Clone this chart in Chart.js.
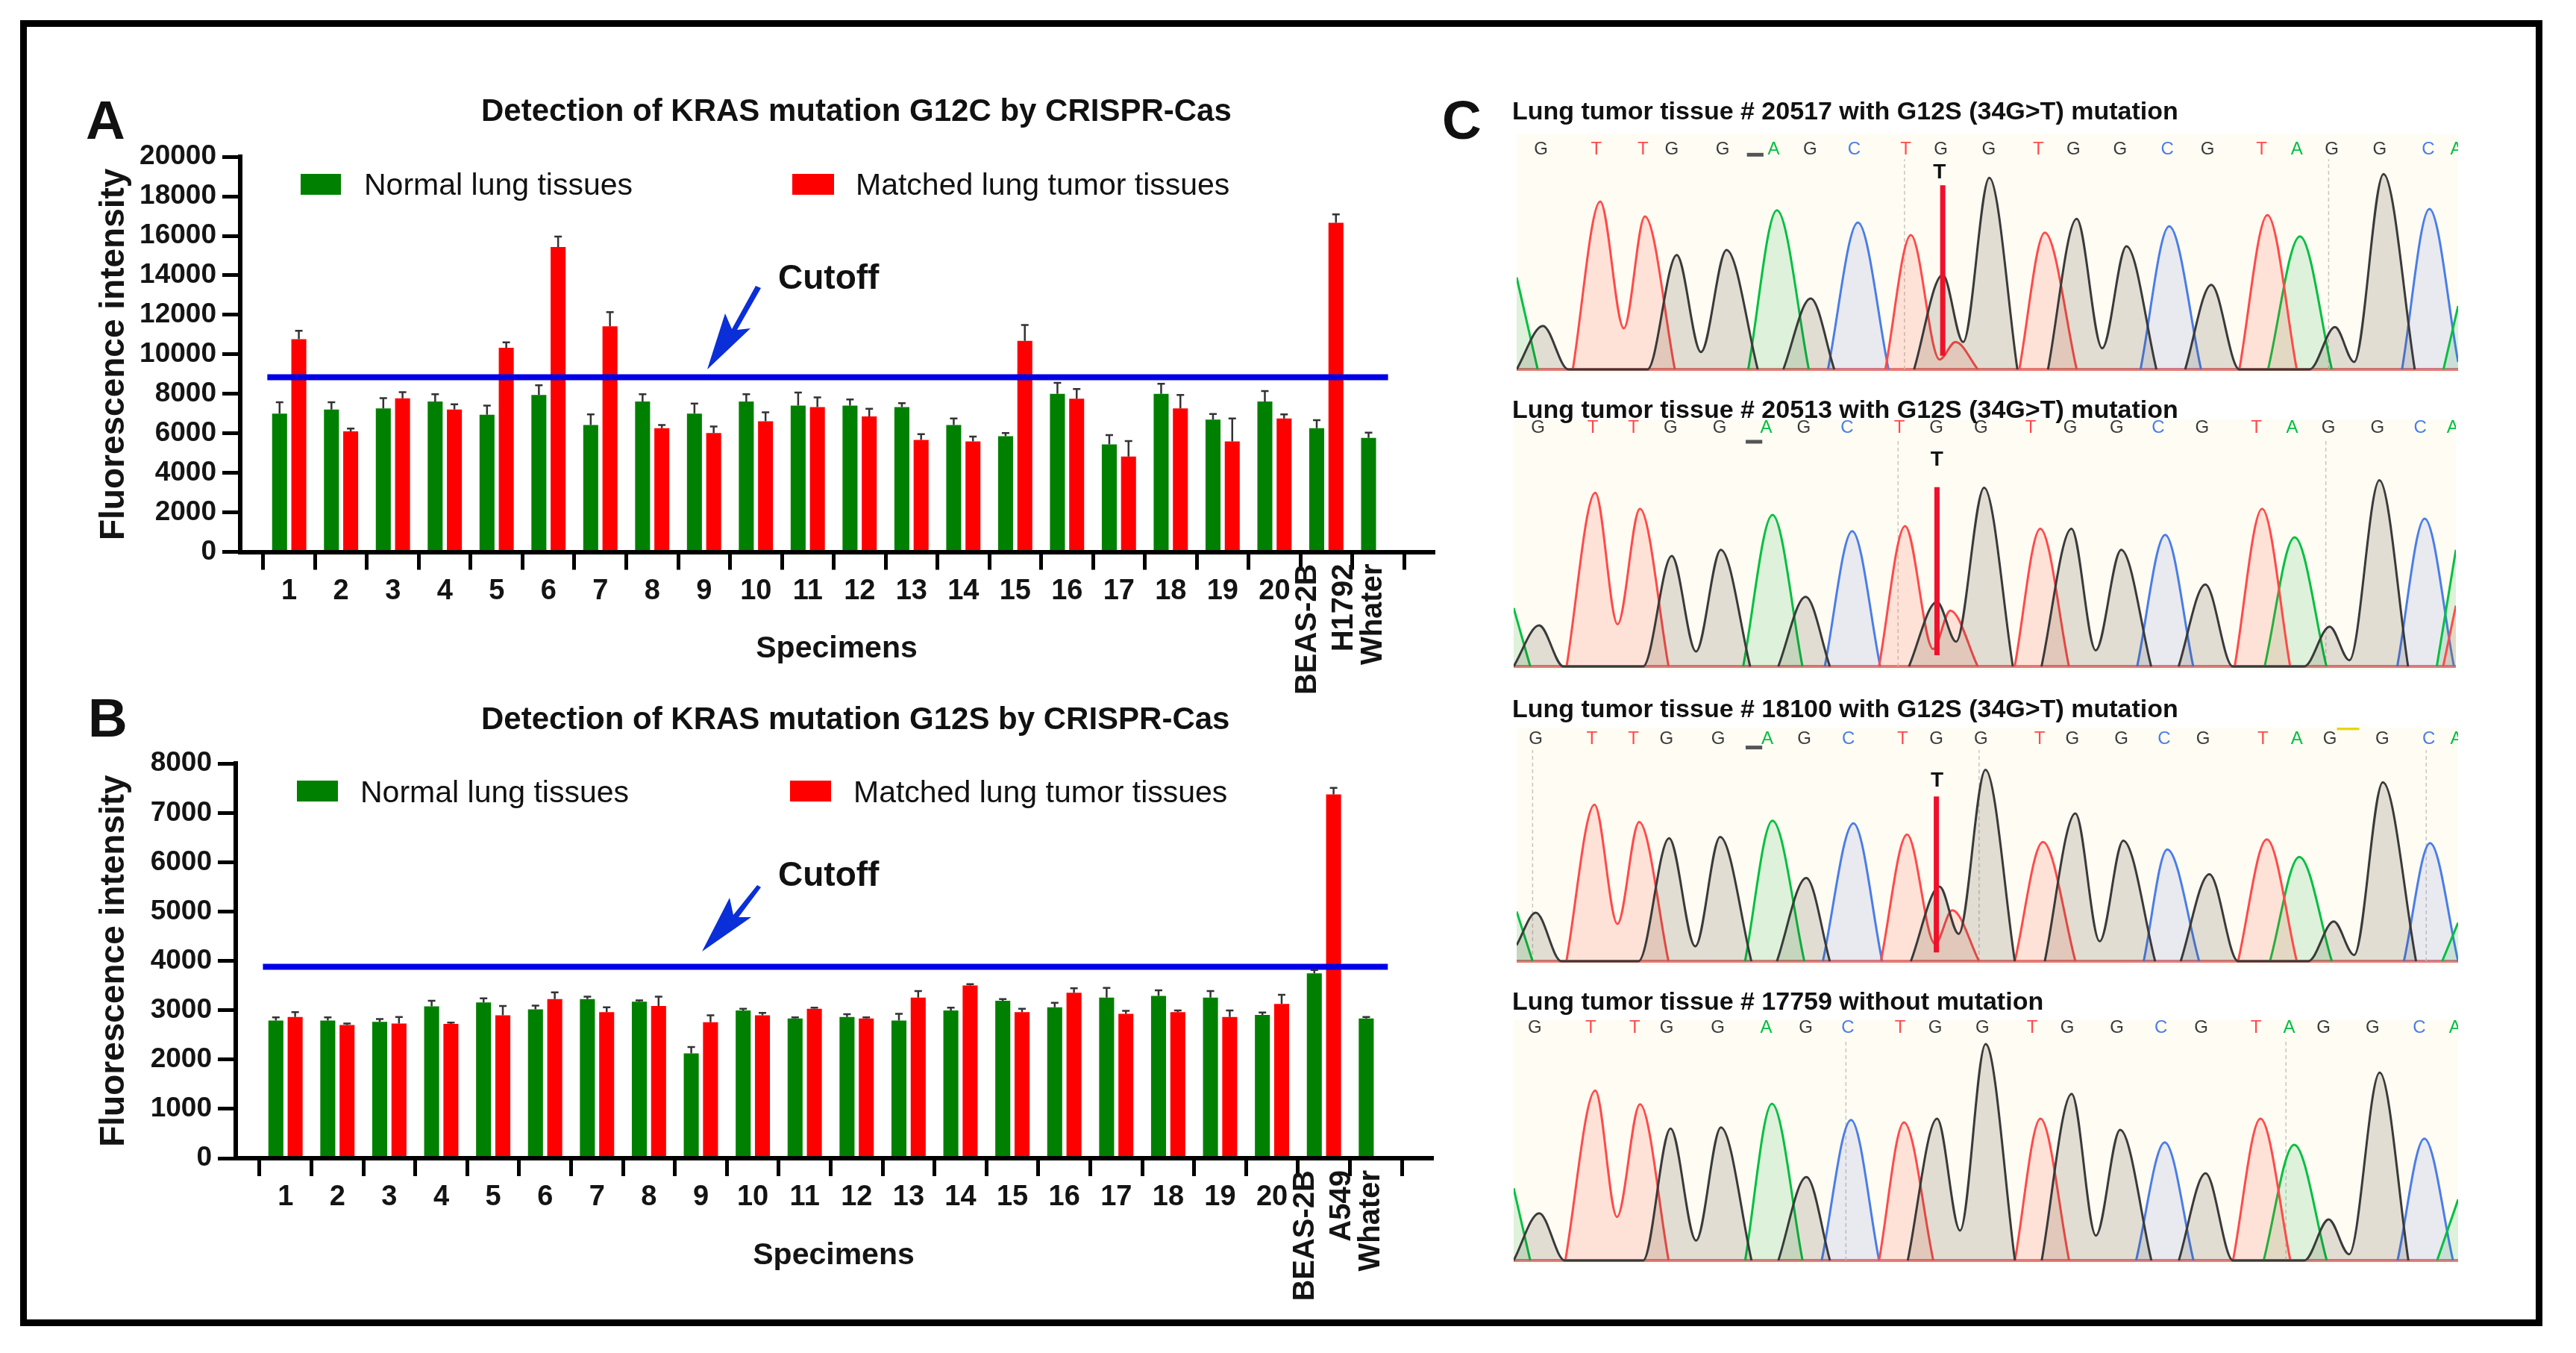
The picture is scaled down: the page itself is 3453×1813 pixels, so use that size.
<!DOCTYPE html>
<html>
<head>
<meta charset="utf-8">
<title>KRAS mutation detection</title>
<script src="https://cdn.jsdelivr.net/npm/chart.js@4/dist/chart.umd.js"></script>
<style>
  html, body { margin: 0; background: #fff; overflow: hidden; }
  body { width: 3453px; height: 1813px; position: relative; font-family: "Liberation Sans", Arial, sans-serif; color: #111; }
  #frame { position: absolute; left: 27px; top: 27px; width: 3381px; height: 1750px; box-sizing: border-box; border: 9px solid #000; }
  canvas { position: absolute; filter: blur(.7px); }
  .txt { position: absolute; white-space: nowrap; filter: blur(.5px); }
  svg { position: absolute; left: 0; top: 0; }
</style>
</head>
<body>
<div id="frame"></div>
<canvas id="chartA"></canvas>
<canvas id="chartB"></canvas>
<canvas id="trace1"></canvas>
<canvas id="trace2"></canvas>
<canvas id="trace3"></canvas>
<canvas id="trace4"></canvas>
<svg width="3453" height="1813">
  <polygon fill="#0a2ed8" points="948,495 972,420 981,441 1013,383 1020,386 988,442 1006,440"/>
  <polygon fill="#0a2ed8" points="941,1275 978,1203 983,1226 1015,1186 1020,1189 990,1229 1007,1229"/>
</svg>
<script>
// x axis names
const specimens = ['1', '2', '3', '4', '5', '6', '7', '8', '9', '10', '11', '12', '13', '14', '15', '16', '17', '18', '19', '20'];
const controlsA = ['BEAS-2B', 'H1792', 'Whater'];
const controlsB = ['BEAS-2B', 'A549', 'Whater'];
const seriesNames = ['Normal lung tissues', 'Matched lung tumor tissues'];

// panel A, G12C. last two slots are the control cell lines, water has no tumor bar
const normalA = [7000, 7205, 7267, 7615, 6940, 7942, 6428, 7615, 7000, 7615, 7410, 7410, 7328, 6428, 5854, 8004, 5445, 8004, 6694, 7615, 6264, 5773];
const normalAErr = [575, 369, 513, 368, 470, 492, 532, 368, 513, 368, 655, 307, 205, 327, 164, 552, 471, 511, 286, 532, 409, 266];
const tumorA = [10767, 6100, 7779, 7205, 10337, 15434, 11422, 6264, 6018, 6612, 7328, 6857, 5670, 5588, 10685, 7758, 4831, 7267, 5588, 6755, 16663, null];
const tumorAErr = [430, 143, 307, 267, 267, 533, 717, 164, 328, 450, 492, 389, 287, 246, 799, 491, 778, 675, 1167, 205, 430, null];
const cutoffA = 8842;
const yTicksA = 2000;
const yMaxA = 20000;

// panel B, G12S
const normalB = [2790, 2790, 2765, 3077, 3159, 3019, 3225, 3175, 2125, 2995, 2831, 2864, 2790, 2995, 3192, 3060, 3257, 3290, 3257, 2905, 3750, 2831];
const normalBErr = [65, 65, 57, 115, 82, 74, 49, 25, 131, 33, 24, 57, 139, 57, 33, 91, 197, 115, 132, 49, 65, 33];
const tumorB = [2864, 2700, 2732, 2724, 2896, 3225, 2962, 3085, 2757, 2896, 3028, 2831, 3257, 3504, 2962, 3356, 2929, 2962, 2864, 3126, 7376, null];
const tumorBErr = [98, 32, 132, 25, 189, 139, 98, 189, 139, 50, 24, 24, 132, 24, 66, 90, 58, 33, 131, 189, 132, null];
const cutoffB = 3880;
const yTicksB = 1000;
const yMaxB = 8000;

// chromatograms: [scan position, signal], null breaks the trace
const bases = ['G', 'T', 'T', 'G', 'G', 'A', 'G', 'C', 'T', 'G', 'G', 'T', 'G', 'G', 'C', 'G', 'T', 'A', 'G', 'G', 'C', 'A'];

const basePos1 = [65, 152, 225, 270, 350, 430, 487, 556, 637, 692, 767, 845, 900, 973, 1047, 1110, 1195, 1250, 1305, 1380, 1456, 1500];
const black1 = [[27, 0], [68, 175], [108, 0], [232, 0], [278, 460], [316, 70], [356, 480], [405, 0], null, [445, 0], [488, 285], [525, 0], null, [650, 0], [695, 380], [727, 110], [768, 770], [812, 0], null, [860, 0], [905, 605], [945, 85], [983, 495], [1030, 0], null, [1075, 0], [1116, 340], [1160, 0], [1270, 0], [1310, 170], [1340, 30], [1386, 785], [1435, 0]];
const red1 = [[115, 0], [158, 675], [195, 165], [228, 615], [275, 0], null, [605, 0], [645, 540], [690, 40], [715, 110], [750, 0], null, [815, 0], [855, 550], [905, 0], null, [1160, 0], [1204, 620], [1250, 0]];
const green1 = [[27, 370], [60, 0], null, [390, 0], [435, 640], [485, 0], null, [1205, 0], [1255, 535], [1305, 0], null, [1480, 0], [1503, 255]];
const blue1 = [[515, 0], [562, 590], [610, 0], null, [1005, 0], [1050, 575], [1100, 0], null, [1415, 0], [1458, 645], [1503, 30]];
const call1 = [[695, 55], [695, 740]];
const dashes1 = [635, 1300];

const basePos2 = [60, 146, 210, 268, 345, 418, 477, 545, 627, 685, 755, 833, 895, 968, 1033, 1102, 1187, 1243, 1300, 1377, 1444, 1495];
const black2 = [[22, 0], [62, 165], [100, 0], [225, 0], [270, 445], [308, 60], [347, 470], [393, 0], null, [437, 0], [480, 280], [518, 0], null, [642, 0], [686, 260], [716, 100], [760, 720], [805, 0], null, [850, 0], [897, 555], [935, 65], [975, 470], [1022, 0], null, [1065, 0], [1107, 330], [1150, 0], [1262, 0], [1302, 160], [1333, 25], [1380, 750], [1425, 0]];
const red2 = [[105, 0], [150, 700], [185, 170], [220, 635], [265, 0], null, [595, 0], [636, 565], [680, 70], [707, 225], [750, 0], null, [808, 0], [848, 555], [893, 0], null, [1153, 0], [1196, 635], [1240, 0], null, [1480, 0], [1500, 245]];
const green2 = [[22, 235], [48, 0], null, [382, 0], [428, 610], [475, 0], null, [1200, 0], [1247, 520], [1297, 0], null, [1470, 0], [1500, 470]];
const blue2 = [[510, 0], [553, 545], [597, 0], null, [1000, 0], [1044, 530], [1088, 0], null, [1408, 0], [1451, 595], [1497, 0]];
const call2 = [[686, 45], [686, 722]];
const dashes2 = [625, 1296];

const basePos3 = [57, 145, 210, 262, 343, 420, 478, 547, 632, 685, 755, 847, 898, 975, 1042, 1103, 1197, 1250, 1302, 1384, 1457, 1500];
const black3 = [[27, 65], [57, 195], [97, 0], [218, 0], [266, 495], [307, 60], [346, 500], [395, 0], null, [435, 0], [481, 335], [518, 0], null, [645, 0], [690, 300], [720, 110], [762, 770], [808, 0], null, [855, 0], [903, 595], [941, 80], [978, 485], [1028, 0], null, [1068, 0], [1113, 350], [1158, 0], [1268, 0], [1308, 160], [1340, 25], [1385, 720], [1437, 0]];
const red3 = [[105, 0], [149, 630], [185, 150], [219, 560], [265, 0], null, [598, 0], [639, 510], [683, 70], [710, 205], [752, 0], null, [808, 0], [852, 480], [903, 0], null, [1158, 0], [1203, 490], [1250, 0]];
const green3 = [[27, 200], [52, 0], null, [385, 0], [428, 565], [478, 0], null, [1208, 0], [1254, 420], [1305, 0], null, [1478, 0], [1503, 155]];
const blue3 = [[507, 0], [555, 555], [600, 0], null, [1010, 0], [1047, 450], [1097, 0], null, [1418, 0], [1459, 475], [1503, 0]];
const call3 = [[685, 35], [685, 663]];
const dashes3 = [52, 752, 1453];

const basePos4 = [55, 143, 212, 262, 342, 418, 480, 546, 628, 683, 757, 835, 890, 968, 1037, 1100, 1186, 1238, 1292, 1369, 1442, 1498];
const black4 = [[22, 0], [62, 190], [102, 0], [225, 0], [268, 530], [308, 80], [347, 535], [395, 0], null, [437, 0], [481, 335], [518, 0], null, [640, 0], [686, 570], [722, 120], [762, 870], [808, 0], null, [850, 0], [897, 670], [935, 100], [973, 525], [1022, 0], null, [1065, 0], [1107, 350], [1150, 0], [1262, 0], [1300, 165], [1332, 25], [1380, 755], [1425, 0]];
const red4 = [[103, 0], [150, 683], [184, 175], [220, 628], [265, 0], null, [595, 0], [634, 555], [680, 0], null, [808, 0], [848, 570], [893, 0], null, [1150, 0], [1193, 570], [1240, 0]];
const green4 = [[22, 290], [48, 0], null, [385, 0], [427, 630], [475, 0], null, [1198, 0], [1246, 465], [1297, 0], null, [1470, 0], [1503, 245]];
const blue4 = [[505, 0], [551, 565], [595, 0], null, [998, 0], [1043, 475], [1088, 0], null, [1408, 0], [1450, 490], [1495, 0]];
const dashes4 = [543, 1233];

const GREEN = '#008000', RED = '#ff0000', BLUE = '#0000e6', INK = '#141414';
const FONT = '"Liberation Sans", Arial, sans-serif';

Chart.defaults.animation = false;
Chart.defaults.responsive = false;
Chart.defaults.font.family = FONT;
Chart.defaults.devicePixelRatio = 1;

function text(str, x, y, size, weight) {
    const el = document.createElement('div');
    el.className = 'txt';
    el.textContent = str;
    el.style.left = x + 'px';
    el.style.top = (y - size) + 'px';
    el.style.lineHeight = (size * 2) + 'px';
    el.style.fontSize = size + 'px';
    el.style.fontWeight = weight;
    document.body.appendChild(el);
    return el;
}

function swatch(x, y, w, h, color) {
    const el = document.createElement('div');
    el.style.cssText = `position:absolute;left:${x}px;top:${y}px;width:${w}px;height:${h}px;background:${color};filter:blur(.7px)`;
    document.body.appendChild(el);
}

const whiskers = {
    id: 'whiskers',
    afterDatasetsDraw(chart, args, opts) {
        const y = chart.scales.y, c = chart.ctx;
        c.save();
        c.strokeStyle = '#333';
        c.lineWidth = 2.5;
        opts.errors.forEach((errs, d) => {
            chart.getDatasetMeta(d).data.forEach((bar, i) => {
                if (errs[i] == null) return;
                const val = chart.data.datasets[d].data[i].y;
                const top = y.getPixelForValue(val + errs[i]);
                c.beginPath();
                c.moveTo(bar.x, y.getPixelForValue(val));
                c.lineTo(bar.x, top);
                c.moveTo(bar.x - 5, top);
                c.lineTo(bar.x + 5, top);
                c.stroke();
            });
        });
        c.restore();
    }
};

// the three control names stand upright beside the last ticks
const controlLabels = {
    id: 'controlLabels',
    afterDraw(chart, args, opts) {
        const c = chart.ctx, x = chart.scales.x;
        c.save();
        c.font = 'bold 40px ' + FONT;
        c.fillStyle = INK;
        c.textAlign = 'right';
        c.textBaseline = 'middle';
        opts.names.forEach((name, i) => {
            c.save();
            c.translate(x.getPixelForValue(opts.at[i]) + opts.shift[i], chart.chartArea.bottom + opts.gap);
            c.rotate(-Math.PI / 2);
            c.fillText(name, 0, 0);
            c.restore();
        });
        c.restore();
    }
};

function barChart(id, box, names, normal, normalErr, tumor, tumorErr, cutoff, step, yMax, xMin, xMax, cutoffEnd, at) {
    const canvas = document.getElementById(id);
    canvas.width = box.w;
    canvas.height = box.h;
    canvas.style.left = box.x + 'px';
    canvas.style.top = box.y + 'px';
    const slots = specimens.concat(names[0], names[2]);
    new Chart(canvas, {
        type: 'bar',
        data: {
            datasets: [{
                label: seriesNames[0],
                data: normal.map((v, i) => ({ x: i + 1, y: v })),
                backgroundColor: GREEN,
                categoryPercentage: 0.742,
                barPercentage: 0.778,
            }, {
                label: seriesNames[1],
                data: tumor.map((v, i) => ({ x: i + 1, y: v })),
                backgroundColor: RED,
                categoryPercentage: 0.742,
                barPercentage: 0.778,
            }, {
                type: 'line',
                label: 'Cutoff',
                data: [{ x: xMin, y: cutoff }, { x: cutoffEnd, y: cutoff }],
                borderColor: BLUE,
                borderWidth: 8,
                pointRadius: 0,
                order: -1,
            }]
        },
        options: {
            layout: { padding: box.pad },
            plugins: {
                legend: { display: false },
                tooltip: { enabled: false },
                whiskers: { errors: [normalErr, tumorErr] },
                controlLabels: { names: names, at: at, shift: [-25, 24, -6], gap: 16 },
            },
            scales: {
                x: {
                    type: 'linear',
                    min: xMin,
                    max: xMax,
                    afterFit(s) { s.height = 157; },
                    border: { color: '#000', width: 6, z: 1 },
                    grid: { drawOnChartArea: false, color: '#000', lineWidth: 5, tickLength: 24 },
                    ticks: {
                        stepSize: 1,
                        includeBounds: false,
                        autoSkip: false,
                        maxRotation: 0,
                        minRotation: 0,
                        padding: 6,
                        color: INK,
                        font: { size: 38, weight: 'bold' },
                        callback: v => (v <= 20 ? slots[v - 1] : ''),
                    },
                    title: { display: true, text: 'Specimens', color: INK, font: { size: 41, weight: 'bold' }, padding: { top: 0, bottom: 2 } },
                },
                y: {
                    min: 0,
                    max: yMax,
                    afterFit(s) { s.width = box.yWidth; },
                    border: { color: '#000', width: 6, z: 1 },
                    grid: { drawOnChartArea: false, color: '#000', lineWidth: 5, tickLength: 24 },
                    ticks: {
                        stepSize: step,
                        autoSkip: false,
                        padding: 8,
                        color: INK,
                        font: { size: 37, weight: 'bold' },
                        callback: v => String(v),
                    },
                    title: { display: true, text: 'Fluorescence intensity', color: INK, font: { size: 46, weight: 'bold' }, padding: { top: 6, bottom: 0 } },
                },
            },
        },
        plugins: [whiskers, controlLabels],
    });
}

barChart('chartA', { x: 120, y: 180, w: 1810, h: 765, yWidth: 202, pad: { top: 30, right: 9, bottom: 48.5, left: 0 } },
    controlsA, normalA, normalAErr, tumorA, tumorAErr, cutoffA, yTicksA, yMaxA, 0.578, 22.536, 22.19, [21, 21, 22]);
barChart('chartB', { x: 120, y: 993, w: 1810, h: 770, yWidth: 196, pad: { top: 30, right: 11, bottom: 54, left: 0 } },
    controlsB, normalB, normalBErr, tumorB, tumorBErr, cutoffB, yTicksB, yMaxB, 0.565, 22.55, 22.23, [21, 21, 22]);

const toPoints = list => list.map((p, i) => (p ? { x: p[0], y: p[1] } : { x: list[i - 1][0], y: null }));
const BASE_COLORS = { G: '#3a3a3a', T: '#ff4a4a', A: '#00c040', C: '#4a7de8' };

function peaks(list, line, fill, order) {
    return {
        data: toPoints(list),
        borderColor: line,
        backgroundColor: fill,
        borderWidth: 3,
        pointRadius: 0,
        fill: 'origin',
        cubicInterpolationMode: 'monotone',
        order: order,
    };
}

function mark(list, color, width, order, dash) {
    return { data: toPoints(list), borderColor: color, borderWidth: width, pointRadius: 0, fill: false, order: order, borderDash: dash || [] };
}

function traceChart(id, box, t) {
    const canvas = document.getElementById(id);
    canvas.width = box.w;
    canvas.height = box.h;
    canvas.style.left = box.x + 'px';
    canvas.style.top = box.y + 'px';
    canvas.style.background = '#fffcf4';

    const dashed = [];
    t.dashes.forEach(x => dashed.push([x, 0], [x, t.dashTop], null));
    dashed.pop();

    const sets = [
        mark([[box.xMin, 0], [box.xMax, 0]], '#e27d7d', 4, 6),
        mark(dashed, '#c9c5bd', 1.5, 5, [5, 4]),
        peaks(t.blue, '#4a7de8', 'rgba(70,100,210,0.12)', 4),
        peaks(t.green, '#00c040', 'rgba(0,170,50,0.13)', 3),
        peaks(t.red, '#ff4a4a', 'rgba(255,70,40,0.14)', 2),
        peaks(t.black, '#3a3a3a', 'rgba(70,60,40,0.16)', 1),
    ];
    if (t.call) sets.push(mark(t.call, '#f0102a', 7, 0));
    if (t.tick) sets.push(mark(t.tick, '#555', 5, 0));
    if (t.flag) sets.push(mark(t.flag, '#e6d800', 4, 0));

    new Chart(canvas, {
        type: 'line',
        data: { datasets: sets },
        options: {
            layout: { padding: 0 },
            plugins: { legend: { display: false }, tooltip: { enabled: false } },
            scales: {
                x: { type: 'linear', display: false, min: box.xMin, max: box.xMax },
                y: { display: false, min: -15, max: box.yMax },
            },
        },
        plugins: [{
            id: 'baseCalls',
            afterDraw(chart) {
                const c = chart.ctx, xs = chart.scales.x, ys = chart.scales.y;
                c.save();
                c.textAlign = 'center';
                c.textBaseline = 'middle';
                c.font = '24px ' + FONT;
                bases.forEach((b, i) => {
                    c.fillStyle = BASE_COLORS[b];
                    c.fillText(b, xs.getPixelForValue(t.basePos[i]), ys.getPixelForValue(t.baseY));
                });
                if (t.called) {
                    c.fillStyle = '#111';
                    c.font = 'bold 28px ' + FONT;
                    c.fillText('T', xs.getPixelForValue(t.called[0]), ys.getPixelForValue(t.called[1]));
                }
                c.restore();
            }
        }],
    });
}

traceChart('trace1', { x: 2033, y: 180, w: 1262, h: 320, xMin: 27, xMax: 1503, yMax: 945 },
    { black: black1, red: red1, green: green1, blue: blue1, call: call1, dashes: dashes1, dashTop: 845, basePos: basePos1, baseY: 885, called: [690, 790], tick: [[388, 863], [414, 863]] });
traceChart('trace2', { x: 2029, y: 562, w: 1263, h: 336, xMin: 22, xMax: 1500, yMax: 995 },
    { black: black2, red: red2, green: green2, blue: blue2, call: call2, dashes: dashes2, dashTop: 915, basePos: basePos2, baseY: 960, called: [686, 832], tick: [[386, 905], [412, 905]] });
traceChart('trace3', { x: 2033, y: 975, w: 1262, h: 318, xMin: 27, xMax: 1503, yMax: 940 },
    { black: black3, red: red3, green: green3, blue: blue3, call: call3, dashes: dashes3, dashTop: 850, basePos: basePos3, baseY: 895, called: [686, 725], tick: [[386, 860], [412, 860]], flag: [[1313, 936], [1348, 936]] });
traceChart('trace4', { x: 2029, y: 1367, w: 1266, h: 327, xMin: 22, xMax: 1503, yMax: 966 },
    { black: black4, red: red4, green: green4, blue: blue4, dashes: dashes4, dashTop: 893, basePos: basePos4, baseY: 935 });

// panel letters, headings, legends
text('A', 115, 161, 73, 'bold');
text('B', 118, 962, 73, 'bold');
text('C', 1933, 161, 73, 'bold');
text('Detection of KRAS mutation G12C by CRISPR-Cas', 645, 148, 42, 'bold');
text('Detection of KRAS mutation G12S by CRISPR-Cas', 645, 963, 42, 'bold');
text('Cutoff', 1043, 371, 46, 'bold');
text('Cutoff', 1043, 1171, 46, 'bold');

swatch(403, 233, 54, 28, GREEN);
text(seriesNames[0], 488, 247, 41, 'normal');
swatch(1062, 233, 56, 28, RED);
text(seriesNames[1], 1147, 247, 41, 'normal');
swatch(398, 1046, 55, 28, GREEN);
text(seriesNames[0], 483, 1061, 41, 'normal');
swatch(1059, 1046, 55, 28, RED);
text(seriesNames[1], 1144, 1061, 41, 'normal');

text('Lung tumor tissue # 20517 with G12S (34G>T) mutation', 2027, 148, 34, 'bold');
text('Lung tumor tissue # 20513 with G12S (34G>T) mutation', 2027, 548, 34, 'bold');
text('Lung tumor tissue # 18100 with G12S (34G>T) mutation', 2027, 949, 34, 'bold');
text('Lung tumor tissue # 17759 without mutation', 2027, 1341, 34, 'bold');
</script>
</body>
</html>
